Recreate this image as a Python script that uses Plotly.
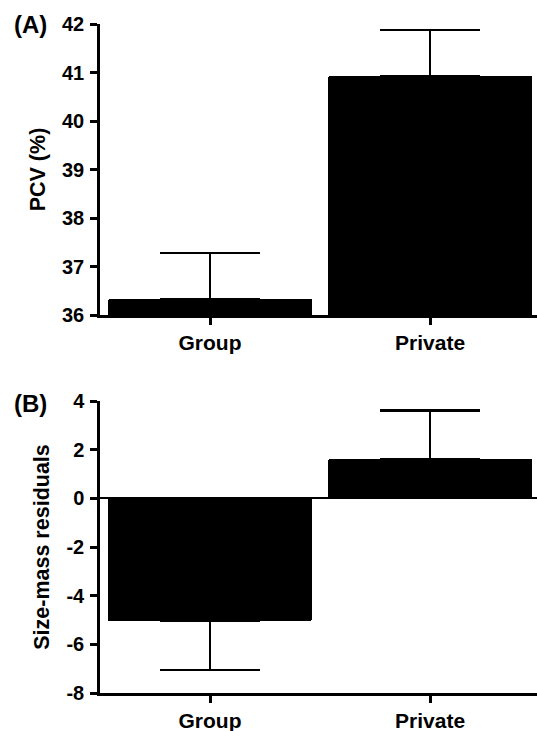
import plotly.graph_objects as go

categories = ["Group", "Private"]
pcv_mean = [36.32, 40.93]
pcv_err_plus = [0.96, 0.95]
pcv_err_minus = [0, 0]
resid_mean = [-5.03, 1.6]
resid_err_plus = [0, 2.02]
resid_err_minus = [2.02, 0]
pcv_ticks = [36, 37, 38, 39, 40, 41, 42]
resid_ticks = [-8, -6, -4, -2, 0, 2, 4]
panel_labels = ["(A)", "(B)"]
y_titles = ["PCV (%)", "Size-mass residuals"]

FONT = "Liberation Sans, Arial, sans-serif"
W, H = 537, 731
ML, MR, MT, MB = 100, 0, 24, 38
pw = W - ML - MR
ph = H - MT - MB


def dom(top_px, bot_px):
    return [1 - (bot_px - MT) / ph, 1 - (top_px - MT) / ph]


def px_x(x):
    return (x - ML) / pw


def px_y(y):
    return 1 - (y - MT) / ph


fig = go.Figure()
fig.add_trace(go.Bar(
    x=categories, y=pcv_mean, width=0.93,
    marker=dict(color="black", line=dict(width=0), cornerradius=2),
    error_y=dict(type="data", symmetric=False, array=pcv_err_plus,
                 arrayminus=pcv_err_minus, color="black", thickness=2.5, width=50),
    xaxis="x", yaxis="y", showlegend=False,
))
fig.add_trace(go.Bar(
    x=categories, y=resid_mean, width=0.93,
    marker=dict(color="black", line=dict(width=0), cornerradius=2),
    error_y=dict(type="data", symmetric=False, array=resid_err_plus,
                 arrayminus=resid_err_minus, color="black", thickness=2.5, width=50),
    xaxis="x2", yaxis="y2", showlegend=False,
))

tickfont = dict(family=FONT, size=20, color="black", weight="bold")
xtickfont = dict(family=FONT, size=21, color="black", weight="bold")
titlefont = dict(family=FONT, size=21.5, color="black", weight="bold")
xcommon = dict(range=[-0.5, 1.486], showline=True, linecolor="black", linewidth=2.5,
               ticks="outside", ticklen=7, tickwidth=2.5, tickcolor="black",
               tickfont=xtickfont, showgrid=False, zeroline=False, fixedrange=True)
ycommon = dict(showline=True, linecolor="black", linewidth=2.5,
               ticks="outside", ticklen=7, tickwidth=2.5, tickcolor="black",
               ticklabelstandoff=2,
               tickfont=tickfont, showgrid=False, fixedrange=True)

fig.update_layout(
    width=W, height=H,
    margin=dict(l=ML, r=MR, t=MT, b=MB),
    paper_bgcolor="white", plot_bgcolor="white",
    bargap=0,
    xaxis=dict(anchor="y", domain=[0, 1], **xcommon),
    xaxis2=dict(anchor="y2", domain=[0, 1], **xcommon),
    yaxis=dict(anchor="x", domain=dom(24, 315), range=[36, 42],
               tickvals=pcv_ticks, ticktext=[str(t) for t in pcv_ticks],
               zeroline=False,
               title=dict(text=y_titles[0], font=titlefont, standoff=11), **ycommon),
    yaxis2=dict(anchor="x2", domain=dom(401, 693), range=[-8, 4],
                tickvals=resid_ticks, ticktext=[str(t) for t in resid_ticks],
                zeroline=True, zerolinecolor="black", zerolinewidth=2,
                title=dict(text=y_titles[1], font=titlefont, standoff=11), **ycommon),
    annotations=[
        dict(text=panel_labels[0], x=px_x(30), y=px_y(25), xref="paper", yref="paper",
             xanchor="center", yanchor="middle", showarrow=False,
             font=dict(family=FONT, size=24, color="black", weight="bold")),
        dict(text=panel_labels[1], x=px_x(30), y=px_y(403), xref="paper", yref="paper",
             xanchor="center", yanchor="middle", showarrow=False,
             font=dict(family=FONT, size=24, color="black", weight="bold")),
    ],
)

fig.write_html("out.html", config={"displayModeBar": False},
               post_script="document.body.style.margin='0';")
